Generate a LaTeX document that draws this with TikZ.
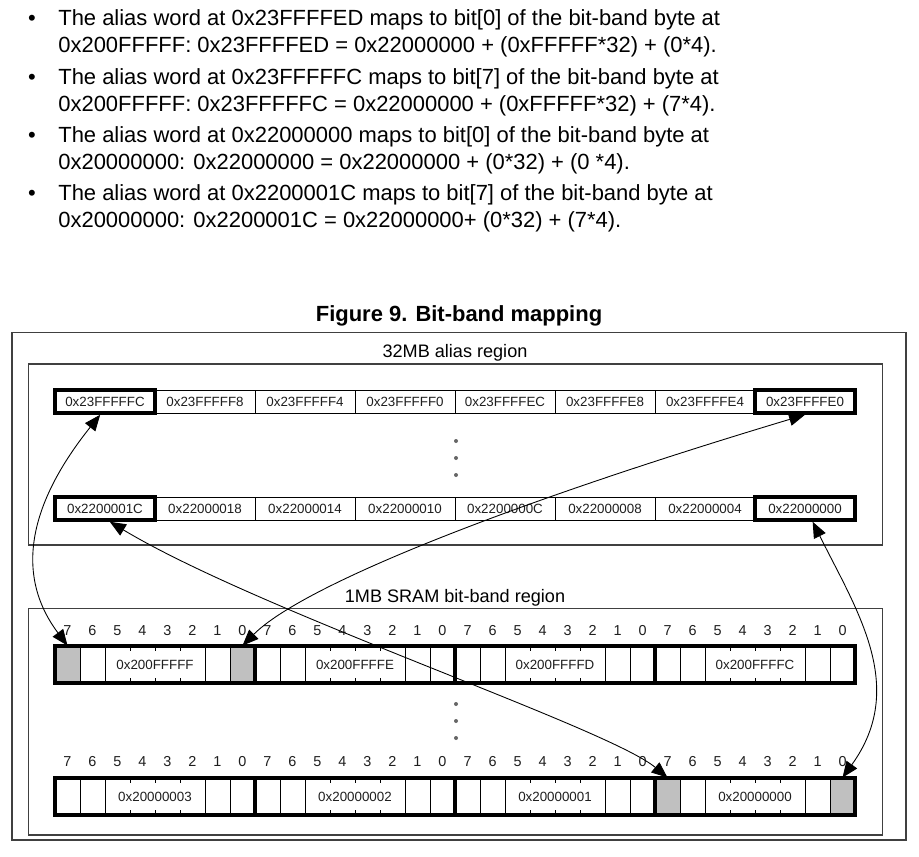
\documentclass[tikz,border=0pt]{standalone}
\usepackage{fontspec}
\setmainfont{Liberation Sans}
\usetikzlibrary{arrows.meta}
\definecolor{framegray}{HTML}{404040}
\definecolor{cellgray}{HTML}{C0C0C0}
\definecolor{inkgray}{HTML}{1E1E1E}

\begin{document}
\begin{tikzpicture}[x=0.02cm,y=-0.02cm,>=Latex,
 region/.style={draw=framegray,line width=0.8pt},
 word/.style={draw,line width=0.5pt,minimum width=2cm,minimum height=0.46cm,inner sep=0pt,font=\fontsize{7.6}{9}\selectfont,text=inkgray},
 sel/.style={line width=2pt},
 norm/.style={},
 bitcell/.style={draw,line width=0.5pt,minimum width=0.5cm,minimum height=0.74cm,inner sep=0pt},
 midcell/.style={draw,line width=0.5pt,minimum width=2cm,minimum height=0.74cm,inner sep=0pt,font=\fontsize{7.6}{9}\selectfont,text=inkgray},
 byteframe/.style={draw,line width=2pt,minimum width=4cm,minimum height=0.74cm,inner sep=0pt},
 bitnum/.style={anchor=base,font=\fontsize{8.2}{9}\selectfont,text=inkgray,inner sep=0pt},
 item/.style={anchor=base west,inner sep=0pt,font=\fontsize{12.5}{15}\selectfont},
 dotmark/.style={anchor=base,inner sep=0pt,font=\fontsize{12.5}{15}\selectfont},
 a/.style={{Triangle[length=3.2mm,width=2.6mm]}-{Triangle[length=3.2mm,width=2.6mm]},line width=0.5pt}]
\useasboundingbox[fill=white] (0,0) rectangle (919,856);

\node[dotmark] (m1) at (32,25) {\textbullet};
\node[item] (l1) at (58,25) {The alias word at 0x23FFFFED maps to bit[0] of the bit-band byte at};
\node[item] (l2) at (58,52) {0x200FFFFF: 0x23FFFFED = 0x22000000 + (0xFFFFF*32) + (0*4).};
\node[dotmark] (m2) at (32,84) {\textbullet};
\node[item] (l3) at (58,84) {The alias word at 0x23FFFFFC maps to bit[7] of the bit-band byte at};
\node[item] (l4) at (58,111) {0x200FFFFF: 0x23FFFFFC = 0x22000000 + (0xFFFFF*32) + (7*4).};
\node[dotmark] (m3) at (32,142) {\textbullet};
\node[item] (l5) at (58,142) {The alias word at 0x22000000 maps to bit[0] of the bit-band byte at};
\node[item] (l6) at (58,169) {0x20000000: 0x22000000 = 0x22000000 + (0*32) + (0 *4).};
\node[dotmark] (m4) at (32,200) {\textbullet};
\node[item] (l7) at (58,200) {The alias word at 0x2200001C maps to bit[7] of the bit-band byte at};
\node[item] (l8) at (58,227) {0x20000000: 0x2200001C = 0x22000000+ (0*32) + (7*4).};

\node[anchor=base,inner sep=0pt,font=\fontsize{12.5}{15}\selectfont\bfseries] (title) at (459,321) {Figure 9. Bit-band mapping};
\draw[region] (12,332.5) rectangle (906,840);
\draw[region] (28.5,364) rectangle (882.5,545);
\draw[region] (28.5,608.5) rectangle (882.5,835);
\node[anchor=base,inner sep=0pt,font=\fontsize{10.3}{12}\selectfont] (alab) at (455,357) {32MB alias region};
\node[anchor=base,inner sep=0pt,font=\fontsize{10.3}{12}\selectfont] (slab) at (455,602) {1MB SRAM bit-band region};

\foreach \lbl/\st [count=\i from 0] in {0x23FFFFFC/sel,0x23FFFFF8/norm,0x23FFFFF4/norm,0x23FFFFF0/norm,0x23FFFFEC/norm,0x23FFFFE8/norm,0x23FFFFE4/norm,0x23FFFFE0/sel}
  \node[word,\st] (w\i) at ({105+100*\i},401.5) {\lbl};
\foreach \lbl/\st [count=\i from 0] in {0x2200001C/sel,0x22000018/norm,0x22000014/norm,0x22000010/norm,0x2200000C/norm,0x22000008/norm,0x22000004/norm,0x22000000/sel}
  \node[word,\st] (v\i) at ({105+100*\i},508.5) {\lbl};
\foreach \yy in {441,458,475} \fill[framegray!80] (456,\yy) circle (2);

\foreach \lbl/\fa/\fb [count=\j from 0] in {0x200FFFFF/cellgray/cellgray,0x200FFFFE/none/none,0x200FFFFD/none/none,0x200FFFFC/none/none}{
  \node[bitcell,fill=\fa] (t\j-7) at ({67.5+200*\j},664.5) {};
  \node[bitcell] (t\j-6) at ({92.5+200*\j},664.5) {};
  \node[midcell] (t\j) at ({155+200*\j},664.5) {\lbl};
  \node[bitcell] (t\j-1) at ({217.5+200*\j},664.5) {};
  \node[bitcell,fill=\fb] (t\j-0) at ({242.5+200*\j},664.5) {};
  \foreach \k in {75,100,125}{
    \draw[line width=0.5pt] ({55+200*\j+\k},646) -- ++(0,5);
    \draw[line width=0.5pt] ({55+200*\j+\k},683) -- ++(0,-5);
  }
  \foreach \b [count=\i from 0] in {7,6,...,0}
    \node[bitnum] at ({67.5+200*\j+25*\i},635) {\b};
  \node[byteframe] (tb\j) at ({155+200*\j},664.5) {};
}
\foreach \yy in {704,721,738} \fill[framegray!80] (456,\yy) circle (2);

\foreach \lbl/\fa/\fb [count=\j from 0] in {0x20000003/none/none,0x20000002/none/none,0x20000001/none/none,0x20000000/cellgray/cellgray}{
  \node[bitcell,fill=\fa] (u\j-7) at ({67.5+200*\j},796.5) {};
  \node[bitcell] (u\j-6) at ({92.5+200*\j},796.5) {};
  \node[midcell] (u\j) at ({155+200*\j},796.5) {\lbl};
  \node[bitcell] (u\j-1) at ({217.5+200*\j},796.5) {};
  \node[bitcell,fill=\fb] (u\j-0) at ({242.5+200*\j},796.5) {};
  \foreach \k in {75,100,125}{
    \draw[line width=0.5pt] ({55+200*\j+\k},778) -- ++(0,5);
    \draw[line width=0.5pt] ({55+200*\j+\k},815) -- ++(0,-5);
  }
  \foreach \b [count=\i from 0] in {7,6,...,0}
    \node[bitnum] at ({67.5+200*\j+25*\i},766.5) {\b};
  \node[byteframe] (ub\j) at ({155+200*\j},796.5) {};
}

\draw[a] (w0.-110) .. controls +(-60,75) and +(-60,-80) .. (t0-7.north);
\draw[a] (w7.south) .. controls +(-300,90) and +(60,-60) .. (t0-0.north);
\draw[a] (v0.-70) .. controls +(150,90) and +(-60,-50) .. (u3-7.north);
\draw[a] (v7.-60) .. controls +(45,90) and +(65,-90) .. (u3-0.north);
\end{tikzpicture}
\end{document}
